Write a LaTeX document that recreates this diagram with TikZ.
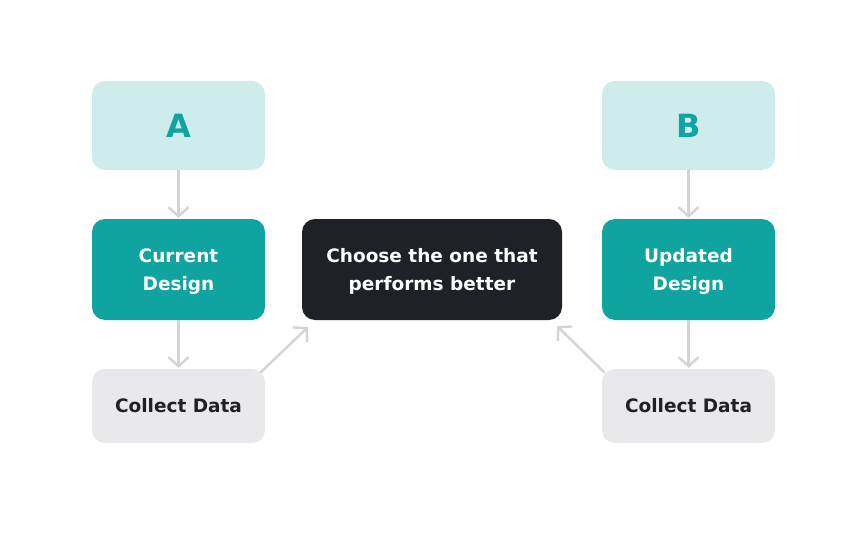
\documentclass[tikz,border=0pt]{standalone}
\usepackage{fontspec}
\setmainfont{DejaVu Sans}
\usetikzlibrary{arrows.meta,calc}
\definecolor{lightteal}{HTML}{CFECEC}
\definecolor{teal}{HTML}{0FA49F}
\definecolor{darkbox}{HTML}{202126}
\definecolor{graybox}{HTML}{E9E9EB}
\definecolor{arrowgray}{HTML}{D4D4D6}
\tikzset{
  box/.style={rounded corners=13pt, minimum width=173pt, align=center, inner sep=0pt,
    font=\bfseries\fontsize{18.5}{28}\selectfont},
  letterbox/.style={box, fill=lightteal, minimum height=89pt, text=teal,
    font=\bfseries\fontsize{32}{36}\selectfont},
  tealbox/.style={box, fill=teal, minimum height=101pt, text=white, text depth=0pt},
  darkbox/.style={box, fill=darkbox, minimum height=101pt, minimum width=260pt, text=white, text depth=0pt},
  graybox/.style={box, fill=graybox, minimum height=74pt, text=darkbox},
  arr/.style={draw=arrowgray, line width=2.4pt, -{Straight Barb[length=9pt,width=20pt,line width=2.4pt]}}
}
\begin{document}
\begin{tikzpicture}[x=1pt,y=-1pt]
\useasboundingbox[fill=white] (0,0) rectangle (864,540);
\node[letterbox] (a) at (178.5,125.5) {A};
\node[tealbox] (cur) at (178.5,269.5) {Current\\Design};
\node[graybox] (cl) at (178.5,406) {Collect Data};
\node[darkbox] (mid) at (432,269.5) {Choose the one that\\performs better};
\node[letterbox] (b) at (688.5,125.5) {B};
\node[tealbox] (upd) at (688.5,269.5) {Updated\\Design};
\node[graybox] (cr) at (688.5,406) {Collect Data};
\draw[arr] (a.south) -- ([yshift=1pt]cur.north);
\draw[arr] (cur.south) -- ([yshift=1pt]cl.north);
\draw[arr] (b.south) -- ([yshift=1pt]upd.north);
\draw[arr] (upd.south) -- ([yshift=1pt]cr.north);
\draw[arr] ($(cl.north east)+(-5,4)$) -- ($(mid.south west)+(6,7)$);
\draw[arr] ($(cr.north west)+(3,4)$) -- ($(mid.south east)+(-5,6)$);
\end{tikzpicture}
\end{document}
